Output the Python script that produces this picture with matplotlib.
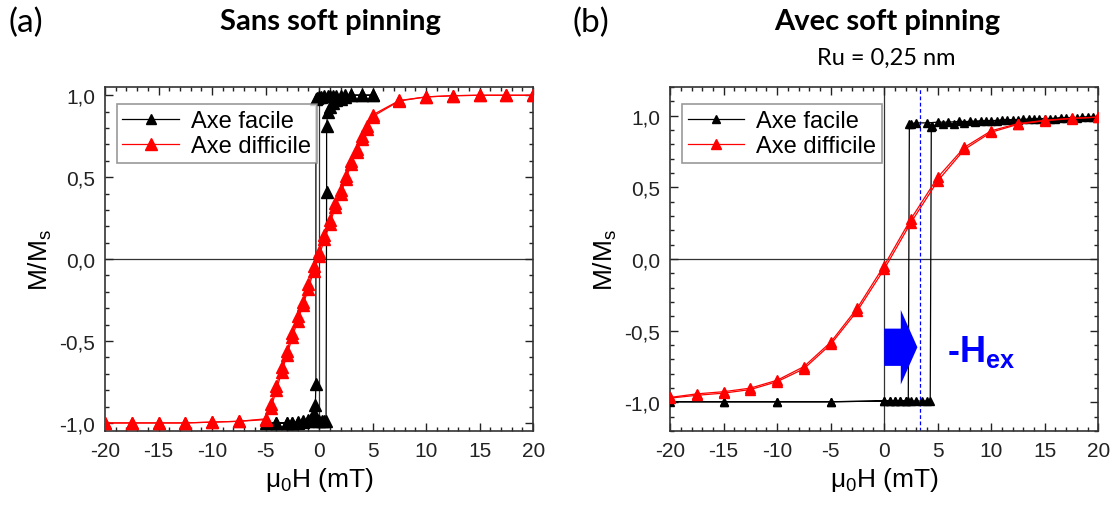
"""
Hysteresis loops M/Ms vs mu0H: without (a) and with (b) soft pinning.
"""
import matplotlib
matplotlib.use("Agg")
import matplotlib.pyplot as plt
from matplotlib.ticker import MultipleLocator, FuncFormatter

plt.rcParams["font.family"] = ["Liberation Sans", "DejaVu Sans"]
plt.rcParams["axes.unicode_minus"] = False
plt.rcParams["mathtext.fontset"] = "custom"
plt.rcParams["mathtext.rm"] = "Liberation Sans"
plt.rcParams["mathtext.it"] = "Liberation Sans:italic"
plt.rcParams["mathtext.bf"] = "Liberation Sans:bold"

# ---- (a) sans soft pinning ----
easy_a_H = [5, 4, 3, 2.4, 2.0, 1.6, 1.3, 1.0, 0.8, 0.5, 0.2, 0.0, -0.2,
            -0.3, -0.3, -0.35, -0.45, -0.6, -0.8, -1.0, -1.5, -2.0, -2.5, -3, -4, -5,
            -4, -3, -2.5, -2.0, -1.5, -1.0, -0.5, 0.0, 0.3, 0.5, 0.65,
            0.7, 0.7, 0.8, 1.0, 1.3, 1.6, 2.0, 2.4, 3, 4, 5]
easy_a_M = [1.0, 1.0, 1.0, 1.0, 0.995, 0.995, 0.995, 0.995, 0.995, 0.995, 0.99, 0.99, 0.985,
            0.98, -0.76, -0.89, -0.94, -0.96, -0.975, -0.985, -0.99, -0.995, -1.0, -1.0, -1.0, -1.0,
            -1.0, -1.0, -1.0, -1.0, -0.995, -0.99, -0.99, -0.99, -0.99, -0.99, -0.99,
            0.41, 0.81, 0.90, 0.93, 0.95, 0.97, 0.98, 0.99, 1.0, 1.0, 1.0]

hard_a_H = [-20, -17.5, -15, -12.5, -10, -7.5, -5, -4.5, -4, -3.5, -3, -2.5, -2, -1.5,
            -1, -0.5, 0, 0.5, 1, 1.5, 2, 2.5, 3, 3.5, 4, 4.5, 5, 7.5, 10, 12.5, 15, 17.5, 20]
hard_a_M_up = [-1.0, -1.0, -1.0, -1.0, -0.995, -0.99, -0.98, -0.91, -0.80, -0.69, -0.585,
               -0.475, -0.375, -0.28, -0.18, -0.07, 0.02, 0.12, 0.215, 0.315, 0.395, 0.49,
               0.58, 0.655, 0.735, 0.795, 0.87, 0.965, 0.99, 0.997, 1.0, 1.0, 1.0]
hard_a_M_dn = [-1.0, -1.0, -1.0, -1.0, -0.995, -0.99, -0.975, -0.885, -0.775, -0.66, -0.56,
               -0.45, -0.35, -0.26, -0.155, -0.045, 0.045, 0.15, 0.24, 0.34, 0.42, 0.51,
               0.60, 0.67, 0.75, 0.81, 0.88, 0.968, 0.99, 0.997, 1.0, 1.0, 1.0]

# ---- (b) avec soft pinning, Ru = 0,25 nm ----
easy_b_H = [20, 19, 18, 17, 16, 15, 14, 13, 12, 11, 10, 9, 8, 7, 6, 5, 4, 3, 2.5, 2.35,
            2.25, 2.0, 1.5, 1.0, 0.5, 0.0, -5, -10, -15, -20,
            -15, -10, -5, 0.0, 0.5, 1.0, 1.5, 2.0, 2.5, 3.0, 3.5, 4.0, 4.3,
            4.4, 4.5, 5.5, 6.5, 7.5, 8.5, 9.5, 10.5, 11.5, 12.5, 13.5, 14.5, 15.5,
            16.5, 17.5, 18.5, 19.5]
easy_b_M = [0.99, 0.99, 0.985, 0.985, 0.98, 0.98, 0.975, 0.975, 0.97, 0.97, 0.965, 0.965,
            0.96, 0.96, 0.955, 0.955, 0.95, 0.95, 0.945, 0.94,
            -0.99, -0.99, -0.99, -0.99, -0.99, -0.99, -0.995, -0.995, -0.995, -0.995,
            -0.995, -0.995, -0.995, -0.99, -0.99, -0.99, -0.99, -0.99, -0.99, -0.99, -0.99,
            -0.99, -0.99,
            0.92, 0.93, 0.94, 0.945, 0.95, 0.955, 0.96, 0.965, 0.97, 0.97, 0.975, 0.98, 0.98,
            0.985, 0.985, 0.99, 0.99]

hard_b_H = [-20, -17.5, -15, -12.5, -10, -7.5, -5, -2.5, 0, 2.5, 5, 7.5, 10, 12.5, 15, 17.5, 20]
hard_b_M_up = [-0.97, -0.95, -0.935, -0.91, -0.855, -0.765, -0.595, -0.36, -0.07, 0.255,
               0.545, 0.765, 0.885, 0.94, 0.965, 0.98, 0.99]
hard_b_M_dn = [-0.965, -0.94, -0.925, -0.90, -0.845, -0.75, -0.58, -0.34, -0.045, 0.28,
               0.57, 0.78, 0.895, 0.945, 0.968, 0.982, 0.99]

H_ex = 3.3
RED = "#ff0000"
BLUE = "#0000ff"


def comma(v, pos):
    return f"{v:.1f}".replace(".", ",")


def style_axes(ax, ylim, ymajor):
    ax.set_xlim(-20, 20)
    ax.set_ylim(*ylim)
    ax.xaxis.set_major_locator(MultipleLocator(5))
    ax.xaxis.set_minor_locator(MultipleLocator(1))
    ax.yaxis.set_major_locator(MultipleLocator(ymajor))
    ax.yaxis.set_minor_locator(MultipleLocator(0.1))
    ax.yaxis.set_major_formatter(FuncFormatter(comma))
    ax.tick_params(which="both", direction="in", top=True, right=True,
                   labelsize=15, colors="#222222", width=1.0)
    ax.tick_params(which="major", length=6, pad=7)
    ax.tick_params(which="minor", length=3)
    for s in ax.spines.values():
        s.set_linewidth(1.2)
        s.set_color("#333333")
    ax.set_xlabel("μ$_\\mathrm{0}$H (mT)", fontsize=19, labelpad=4)
    ax.set_ylabel("M/M$_\\mathrm{s}$", fontsize=19, labelpad=4)
    ax.axhline(0, color="#333333", lw=0.9, zorder=1)
    ax.axvline(0, color="#333333", lw=0.9, zorder=1)


def add_legend(ax, ms_leg):
    leg = ax.legend(loc="upper left", bbox_to_anchor=(0.027, 0.951), borderaxespad=0,
                    fontsize=17, frameon=True, fancybox=False, handlelength=2.4,
                    handletextpad=0.5, borderpad=0.25, labelspacing=0.15, markerscale=ms_leg)
    leg.get_frame().set_edgecolor("#808080")
    leg.get_frame().set_linewidth(1.2)


fig = plt.figure(figsize=(11.15, 5.06), dpi=100)
ax_a = fig.add_axes([0.0942, 0.146, 0.384, 0.680])
ax_b = fig.add_axes([0.601, 0.146, 0.384, 0.680])

# panel (a)
style_axes(ax_a, (-1.05, 1.05), 0.5)
ax_a.plot(easy_a_H, easy_a_M, color="black", lw=0.9, marker="^", ms=8,
          label="Axe facile", zorder=3)
ax_a.plot(hard_a_H, hard_a_M_up, color=RED, lw=0.9, marker="^", ms=9,
          label="Axe difficile", zorder=4)
ax_a.plot(hard_a_H, hard_a_M_dn, color=RED, lw=0.9, marker="^", ms=9, zorder=4)
add_legend(ax_a, 0.9)

# panel (b)
style_axes(ax_b, (-1.2, 1.2), 0.5)
ax_b.axvline(H_ex, color=BLUE, lw=0.9, ls=(0, (3, 2)), zorder=2)
ax_b.plot(easy_b_H, easy_b_M, color="black", lw=0.9, marker="^", ms=6,
          label="Axe facile", zorder=3)
ax_b.plot(hard_b_H, hard_b_M_up, color=RED, lw=0.9, marker="^", ms=7,
          label="Axe difficile", zorder=4)
ax_b.plot(hard_b_H, hard_b_M_dn, color=RED, lw=0.9, marker="^", ms=7, zorder=4)
add_legend(ax_b, 1.0)

ax_b.arrow(0, -0.615, 3.1, 0, width=0.26, head_width=0.52, head_length=1.55,
           length_includes_head=True, color=BLUE, lw=0, zorder=5)
ax_b.text(5.9, -0.64, "-H$_{\\mathbf{ex}}$", color=BLUE, fontsize=26,
          fontweight="bold", ha="left", va="center")

# titles
fig.text(8 / 1115, 1 - 23 / 506, "(a)", fontsize=24, family="Lato", va="center")
fig.text(572 / 1115, 1 - 23 / 506, "(b)", fontsize=24, family="Lato", va="center")
fig.text(330 / 1115, 1 - 22 / 506, "Sans soft pinning", fontsize=21, family="Lato",
         fontweight="bold", ha="center", va="center")
fig.text(887 / 1115, 1 - 22 / 506, "Avec soft pinning", fontsize=21, family="Lato",
         fontweight="bold", ha="center", va="center")
fig.text(886 / 1115, 1 - 58 / 506, "Ru = 0,25 nm", fontsize=17, family="Lato",
         ha="center", va="center")

fig.savefig("out.png", dpi=100)
